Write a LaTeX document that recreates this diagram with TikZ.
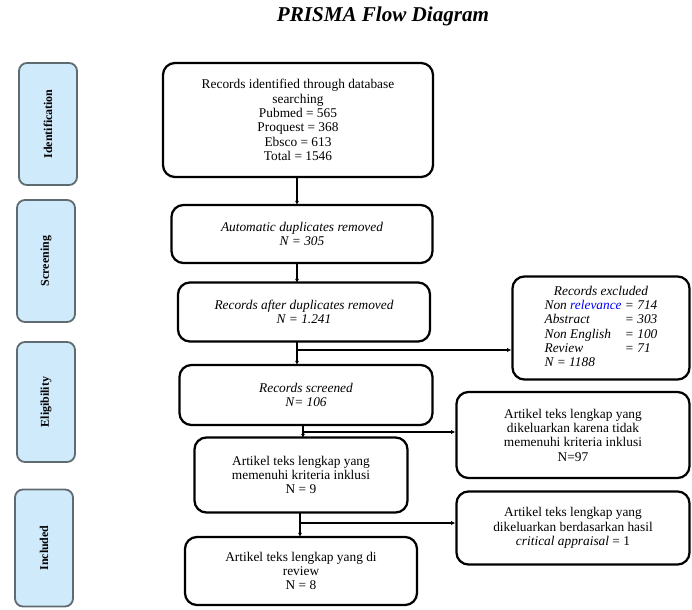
\documentclass[tikz,border=0pt]{standalone}
\usepackage{fontspec}
\setmainfont{Liberation Serif}
\usetikzlibrary{arrows.meta}
\definecolor{sidefill}{HTML}{CFEAFB}
\definecolor{sidedraw}{HTML}{5F6B70}
\begin{document}
\begin{tikzpicture}[x=0.025cm,y=-0.025cm,
    stagebox/.style={draw=black,line width=1.6pt,rounded corners=0.3cm,align=center,
      font=\fontsize{9.5}{10.2}\selectfont,inner sep=2pt},
    sidebox/.style={draw=sidedraw,fill=sidefill,line width=1.3pt,rounded corners=0.2cm,
      minimum width=1.45cm,font=\fontsize{8.5}{9}\selectfont\bfseries},
    flow/.style={line width=0.9pt,-{Latex[length=3pt,width=3pt]}}]
  \useasboundingbox (0,0) rectangle (692,610);
  % title
  \node[font=\fontsize{15}{17}\selectfont\bfseries\itshape] (title) at (383,16) {PRISMA Flow Diagram};
  % stages on the left
  \node[sidebox,minimum height=3.05cm] (ident) at (48,124) {\rotatebox{90}{Identification}};
  \node[sidebox,minimum height=3.05cm] (screen) at (46,261) {\rotatebox{90}{Screening}};
  \node[sidebox,minimum height=3.0cm] (elig) at (46,402) {\rotatebox{90}{Eligibility}};
  \node[sidebox,minimum height=2.925cm] (incl) at (44,548) {\rotatebox{90}{Included}};
  % main column
  \node[stagebox,minimum width=6.75cm,minimum height=2.85cm] (found) at (298,120)
    {Records identified through database\\ searching\\ Pubmed = 565\\ Proquest = 368\\ Ebsco = 613\\ Total = 1546};
  \node[stagebox,minimum width=6.525cm,minimum height=1.45cm,font=\fontsize{9.5}{10.2}\selectfont\itshape] (dupl) at (302,234)
    {Automatic duplicates removed\\ N = 305};
  \node[stagebox,minimum width=6.3cm,minimum height=1.475cm,font=\fontsize{9.5}{10.2}\selectfont\itshape] (after) at (304,312)
    {Records after duplicates removed\\ N = 1.241};
  \node[stagebox,minimum width=6.325cm,minimum height=1.5cm,font=\fontsize{9.5}{10.2}\selectfont\itshape] (screened) at (306,395)
    {Records screened\\ N= 106};
  \node[stagebox,minimum width=5.325cm,minimum height=1.875cm] (inkl) at (301,475)
    {Artikel teks lengkap yang\\ memenuhi kriteria inklusi\\ N = 9};
  \node[stagebox,minimum width=5.8cm,minimum height=1.7cm] (review) at (301,571)
    {Artikel teks lengkap yang di\\ review\\ N = 8};
  % right column
  \node[stagebox,minimum width=4.425cm,minimum height=2.575cm,font=\fontsize{9.5}{10.2}\selectfont\itshape] (excl) at (601,328)
    {\begin{tabular}{@{}l@{\ }l@{}}
      \multicolumn{2}{c}{Records excluded}\\
      Non \textcolor{blue}{relevance} & = 714\\
      Abstract & = 303\\
      Non English & = 100\\
      Review & = 71\\
      N = 1188 &
    \end{tabular}};
  \node[stagebox,minimum width=5.825cm,minimum height=2.15cm] (fulltext) at (573,435)
    {Artikel teks lengkap yang\\ dikeluarkan karena tidak\\ memenuhi kriteria inklusi\\ N=97};
  \node[stagebox,minimum width=5.825cm,minimum height=1.825cm] (apprais) at (573,528)
    {Artikel teks lengkap yang\\ dikeluarkan berdasarkan hasil\\ \textit{critical appraisal} = 1};
  % branch points
  \coordinate (c1) at (297,350);
  \coordinate (c2) at (303,432);
  \coordinate (c3) at (300,523);
  % connectors
  \draw[flow] (297,177) -- (297,205);
  \draw[flow] (297,263) -- (297,283);
  \draw[flow] (297,342) -- (297,365);
  \draw[flow] (c1) -- (c1 -| excl.west);
  \draw[flow] (303,425) -- (303,438);
  \draw[flow] (c2) -- (c2 -| fulltext.west);
  \draw[flow] (300,513) -- (300,537);
  \draw[flow] (c3) -- (c3 -| apprais.west);
\end{tikzpicture}
\end{document}
